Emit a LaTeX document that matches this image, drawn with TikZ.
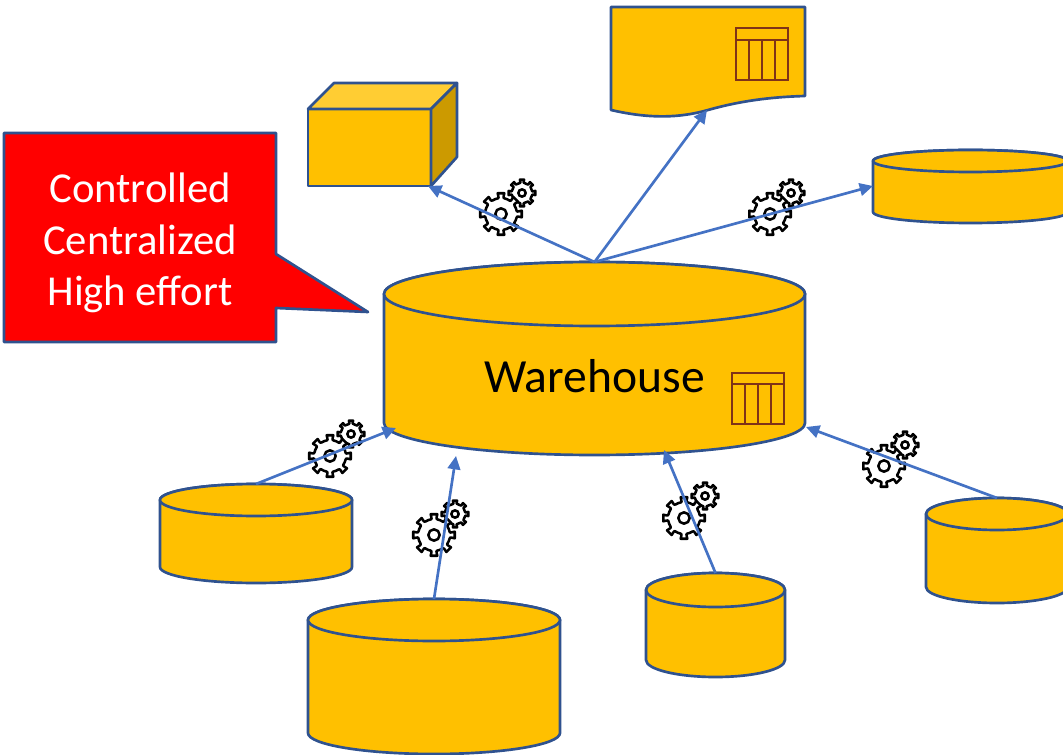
\documentclass[tikz,border=0pt]{standalone}
\usepackage{fontspec}
\setmainfont{Carlito}
\usetikzlibrary{arrows.meta}
\definecolor{amber}{HTML}{FFC000}
\definecolor{edge}{HTML}{2F528F}
\definecolor{link}{HTML}{4472C4}
\definecolor{gridred}{HTML}{7F3318}
\definecolor{gridglow}{HTML}{ED7D31}
\tikzset{
  shape line/.style={draw=edge,line width=2pt,line join=round},
  amber shape/.style={shape line,fill=amber},
  connector/.style={draw=link,line width=2pt,-{Triangle[length=10pt,width=9.5pt]}},
  gear outline/.style={draw=black,fill=white,line width=1.9pt,line join=round},
  anchor box/.style={inner sep=0pt,outer sep=0pt,minimum width=0pt,minimum height=0pt},
}
% \cyl{name}{x left}{x right}{y top}{y bottom}{ry}
\newcommand{\cyl}[6]{%
  \pgfmathsetmacro{\cx}{(#2+#3)/2}\pgfmathsetmacro{\rx}{(#3-#2)/2}%
  \pgfmathsetmacro{\ya}{#4+#6}\pgfmathsetmacro{\yb}{#5-#6}%
  \draw[amber shape] (#2,\ya) -- (#2,\yb) arc[start angle=180,end angle=360,x radius=\rx,y radius=-#6]
     -- (#3,\ya) arc[start angle=0,end angle=180,x radius=\rx,y radius=-#6] -- cycle;
  \draw[amber shape] (\cx,\ya) ellipse[x radius=\rx,y radius=#6];
  \coordinate (#1) at (\cx,#4);
}
% \gearshape{x}{y}{radius}
\newcommand{\gearshape}[3]{%
  \begin{scope}[shift={(#1,#2)}]
    \pgfmathsetmacro{\ro}{#3}\pgfmathsetmacro{\ri}{#3*0.76}%
    \draw[gear outline] (-11:\ri)
      \foreach \k in {0,45,...,315}{
        -- ++(0,0) .. controls (\k-8:\ri) .. (\k-9:\ro) -- (\k+9:\ro) .. controls (\k+8:\ri) .. (\k+13:\ri)
        arc[start angle=\k+13,end angle=\k+34,radius=\ri]
      } -- cycle;
    \draw[gear outline] (0,0) circle[radius=#3*0.27];
  \end{scope}%
}
\newcommand{\gearpair}[4]{\gearshape{#3}{#4}{13.5}\gearshape{#1}{#2}{21}}
% \gridicon{left}{top}{right}{bottom}{header}{c1}{c2}{c3}
\newcommand{\gridicon}[8]{%
  \foreach \cw/\cc in {2.2pt/gridglow,1.2pt/gridred}{
    \draw[line width=\cw,draw=\cc] (#1,#2) rectangle (#3,#4);
    \draw[line width=\cw,draw=\cc] (#1,#5) -- (#3,#5) (#6,#5) -- (#6,#4) (#7,#5) -- (#7,#4) (#8,#5) -- (#8,#4);
  }%
}
\begin{document}
\begin{tikzpicture}[x=0.75pt,y=-0.75pt]
\useasboundingbox (0,0) rectangle (1063,755);
\clip (0,0) rectangle (1063,755);

% gears below the connectors
\gearpair{501}{214}{522}{193}
\gearpair{770}{214}{791}{193}
\gearpair{330}{456}{351}{434}
\gearpair{434}{535}{455}{514}
\gearpair{684}{518}{705}{496}
\gearpair{884}{466}{905}{445}

% cylinders
\cyl{wh}{384}{805}{262}{455}{32}
\node[anchor box,text=black,font=\fontsize{35.7}{43}\selectfont] (whlabel) at (594.5,376) {Warehouse};
\gridicon{732}{373}{784}{424}{384}{745}{758}{771}

\cyl{cylout}{873}{1068}{150}{223}{11}
\cyl{cyla}{160}{352}{484}{583}{16}
\cyl{cylb}{308}{560}{599}{754}{21}
\cyl{cylc}{646}{785}{573}{677}{17}
\cyl{cyld}{926}{1068}{498}{603}{16}

% cube
\draw[amber shape] (308,109) rectangle (431,186);
\draw[shape line,fill=amber!80!white] (308,109) -- (334,83) -- (457,83) -- (431,109) -- cycle;
\draw[shape line,fill=amber!80!black] (431,109) -- (457,83) -- (457,157) -- (431,186) -- cycle;

% document
\draw[amber shape] (611,7) -- (805,7) -- (805,96)
  .. controls (770,97) and (740,101) .. (708,110)
  .. controls (680,118) and (650,119) .. (611,110) -- cycle;
\gridicon{736}{28}{788}{80}{40}{749}{762}{775}

% connector ends
\coordinate (cubeend) at (428,186);
\coordinate (docend) at (707,110);
\coordinate (cylend) at (873,186);
\coordinate (wha) at (396,428);
\coordinate (whb) at (456,456);
\coordinate (whc) at (664,450);
\coordinate (whd) at (806,427);

\draw[connector] (wh) -- (cubeend);
\draw[connector] (wh) -- (docend);
\draw[connector] (wh) -- (cylend);
\draw[connector] (cyla) -- (wha);
\draw[connector] (cylb) -- (whb);
\draw[connector] (cylc) -- (whc);
\draw[connector] (cyld) -- (whd);

% callout
\draw[shape line,fill=red] (4,133) -- (276,133) -- (276,254) -- (368,312) -- (276,308) -- (276,342) -- (4,342) -- cycle;
\node[anchor box,text=white,align=center,font=\fontsize{32}{38.5}\selectfont] (callout) at (140,243) {Controlled\\Centralized\\High effort};
\end{tikzpicture}
\end{document}
